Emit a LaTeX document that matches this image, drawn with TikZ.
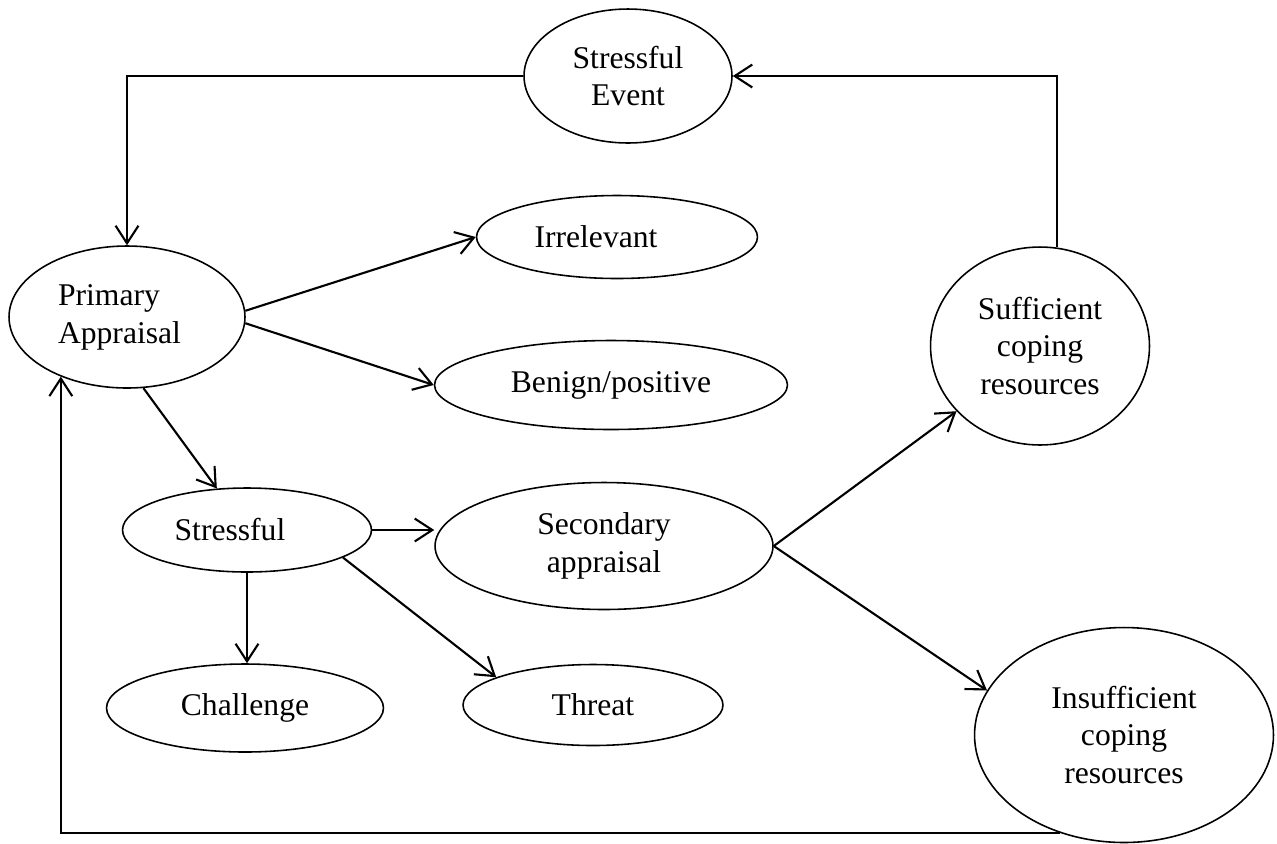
\documentclass[tikz,border=0pt]{standalone}
\usepackage{fontspec}
\setmainfont{Liberation Serif}
\usepackage{tikz}
\usetikzlibrary{arrows.meta,shapes.geometric}
\tikzset{
  oval/.style={draw, ellipse, line width=0.9pt, inner sep=0pt, align=center},
  arr/.style={-{Straight Barb[length=10pt,width=13pt]}, line width=1.2pt},
}

\begin{document}
\begin{tikzpicture}[x=0.02cm, y=-0.02cm, font=\fontsize{18}{21.6}\selectfont]
  \useasboundingbox (0,0) rectangle (1277,843);
  % appraisal chain
  \node[oval, minimum width=4.16cm, minimum height=2.68cm] (ev) at (628,76) {Stressful\\Event};
  \node[oval, minimum width=4.72cm, minimum height=2.84cm, align=left] (pa) at (127,317) {Primary\\Appraisal\hspace*{0.3cm}};
  \node[oval, minimum width=5.62cm, minimum height=1.66cm] (irr) at (617,237) {Irrelevant\hspace*{0.84cm}};
  \node[oval, minimum width=7.06cm, minimum height=1.78cm] (ben) at (611,385) {Benign/positive};
  \node[oval, minimum width=4.98cm, minimum height=1.68cm] (st) at (247,530) {Stressful\hspace*{0.68cm}};
  \node[oval, minimum width=6.76cm, minimum height=2.54cm] (sec) at (604,546) {Secondary\\appraisal};
  \node[oval, minimum width=5.54cm, minimum height=1.76cm] (ch) at (245,708) {Challenge};
  \node[oval, minimum width=5.2cm, minimum height=1.62cm] (th) at (593,705) {Threat};
  % coping outcomes
  \node[oval, minimum width=4.38cm, minimum height=3.96cm] (suf) at (1040,346) {Sufficient\\coping\\resources};
  \node[oval, minimum width=5.98cm, minimum height=4.3cm] (ins) at (1124,735) {Insufficient\\coping\\resources};

  \draw[arr] (ev.west) -| (pa.north);
  \draw[arr] (pa.3) -- (irr.west);
  \draw[arr] (pa.-3) -- (ben.west);
  \draw[arr] (pa.-77) -- (st.126);
  \draw[arr] (st.east) -- (st.east -| sec.west);
  \draw[arr] (st.south) -- (st.south |- ch.north);
  \draw[arr] (st.-16) -- (th.164);
  \draw[arr] (sec.east) -- (suf.218);
  \draw[arr] (sec.east) -- (ins.162);
  % feedback loops
  \draw[arr] (suf.80) |- (ev.east);
  \draw[arr] (ins.237) -| (pa.222);
\end{tikzpicture}
\end{document}
